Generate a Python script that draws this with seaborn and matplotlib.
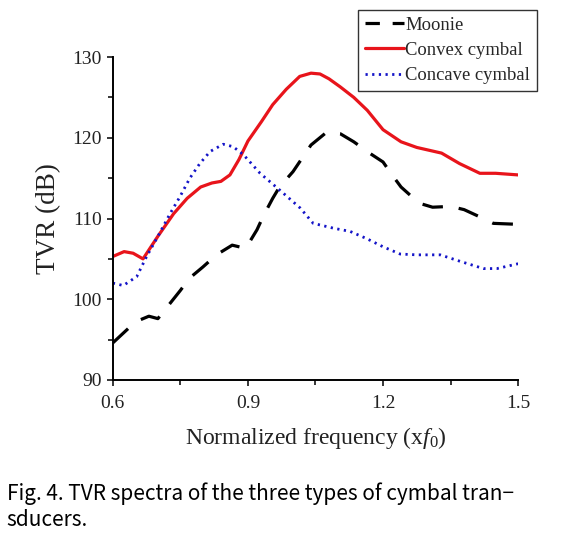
import matplotlib
matplotlib.use("Agg")
import matplotlib.pyplot as plt
from matplotlib.ticker import AutoMinorLocator, MultipleLocator
import seaborn as sns
import pandas as pd

# Moonie (dashed black)
moonie_x = [0.60, 0.65, 0.68, 0.70, 0.75, 0.77, 0.80, 0.83, 0.865, 0.895, 0.92, 0.935,
            0.955, 0.97, 1.00, 1.04, 1.075, 1.105, 1.135, 1.17, 1.20, 1.22, 1.24, 1.28,
            1.31, 1.35, 1.38, 1.415, 1.445, 1.49, 1.50]
moonie_y = [94.6, 97.2, 97.9, 97.6, 101.1, 102.6, 104.0, 105.5, 106.7, 106.3, 108.6, 110.4,
            112.5, 113.9, 115.8, 119.1, 120.7, 120.5, 119.5, 118.1, 117.0, 115.4, 113.9, 111.9,
            111.4, 111.5, 111.1, 110.2, 109.4, 109.3, 109.6]

# Convex cymbal (solid red)
convex_x = [0.60, 0.625, 0.645, 0.667, 0.70, 0.735, 0.765, 0.795, 0.82, 0.84, 0.86, 0.88,
            0.90, 0.93, 0.955, 0.985, 1.015, 1.04, 1.06, 1.08, 1.105, 1.135, 1.165, 1.20,
            1.24, 1.275, 1.33, 1.37, 1.415, 1.45, 1.50]
convex_y = [105.3, 105.9, 105.7, 105.0, 107.8, 110.6, 112.5, 113.9, 114.4, 114.6, 115.4, 117.3,
            119.6, 122.0, 124.1, 126.0, 127.6, 128.0, 127.9, 127.3, 126.3, 125.0, 123.4, 121.0,
            119.5, 118.8, 118.1, 116.8, 115.6, 115.6, 115.4]

# Concave cymbal (dotted blue)
concave_x = [0.60, 0.623, 0.653, 0.675, 0.704, 0.727, 0.749, 0.771, 0.793, 0.816, 0.845,
             0.867, 0.89, 0.927, 0.971, 1.016, 1.045, 1.09, 1.127, 1.164, 1.20, 1.238,
             1.275, 1.327, 1.371, 1.423, 1.453, 1.50]
concave_y = [102.0, 101.7, 102.8, 105.3, 108.2, 110.6, 112.7, 115.0, 116.8, 118.3, 119.2,
             118.9, 117.9, 115.6, 113.5, 111.3, 109.4, 108.8, 108.4, 107.5, 106.5, 105.6,
             105.5, 105.5, 104.7, 103.8, 103.8, 104.4]

sns.set_style("ticks")
plt.rcParams['font.family'] = ['Liberation Serif', 'DejaVu Serif']
plt.rcParams['mathtext.fontset'] = 'custom'
plt.rcParams['mathtext.rm'] = 'Liberation Serif'
plt.rcParams['mathtext.it'] = 'Liberation Serif:italic'
plt.rcParams['xtick.direction'] = 'out'
plt.rcParams['ytick.direction'] = 'out'

fig = plt.figure(figsize=(5.7, 5.41), dpi=100)
ax = fig.add_axes([0.198, 0.2976, 0.711, 0.5970])

df_m = pd.DataFrame({'x': moonie_x, 'y': moonie_y})
df_cx = pd.DataFrame({'x': convex_x, 'y': convex_y})
df_cc = pd.DataFrame({'x': concave_x, 'y': concave_y})

sns.lineplot(data=df_m, x='x', y='y', ax=ax, color='black', lw=2.3,
             label='Moonie', estimator=None, sort=False)
ax.lines[-1].set_dashes([6.5, 5])
sns.lineplot(data=df_cx, x='x', y='y', ax=ax, color='#e8141b', lw=2.3,
             label='Convex cymbal', estimator=None, sort=False)
sns.lineplot(data=df_cc, x='x', y='y', ax=ax, color='#1414c8', lw=2.0,
             label='Concave cymbal', estimator=None, sort=False)
ax.lines[-1].set_dashes([0.8, 1.6])

ax.set_xlim(0.6, 1.5)
ax.set_ylim(90, 130)
ax.xaxis.set_major_locator(MultipleLocator(0.3))
ax.yaxis.set_major_locator(MultipleLocator(10))
ax.xaxis.set_minor_locator(AutoMinorLocator(2))
ax.yaxis.set_minor_locator(AutoMinorLocator(2))
ax.tick_params(which='major', length=4.5, width=1.1, labelsize=14, color='black', labelcolor='#222222')
ax.tick_params(axis='x', which='major', pad=6)
ax.tick_params(which='minor', length=3.5, width=1.1, color='black')
for s in ['left', 'bottom']:
    ax.spines[s].set_linewidth(1.4)
    ax.spines[s].set_color('black')
sns.despine(ax=ax)

ax.set_xlabel(r'Normalized frequency (x$\mathit{f}_0$)', fontsize=17, labelpad=10, color='#222222')
ax.set_ylabel('TVR (dB)', fontsize=19.5, labelpad=8, color='#222222')

leg = ax.legend(loc='upper left', bbox_to_anchor=(358 / 570, 1 - 10 / 541),
                bbox_transform=fig.transFigure, fontsize=13.4, frameon=True,
                fancybox=False, handlelength=2.1, handletextpad=0.1,
                borderpad=0.35, labelspacing=0.45, borderaxespad=0)
leg.get_frame().set_edgecolor('black')
leg.get_frame().set_linewidth(1.0)
leg.get_lines()[0].set_linestyle((0, (4.5, 4)))

fig.text(0.012, 1 - 482 / 541, 'Fig. 4. TVR spectra of the three types of cymbal tran\u2212\nsducers.',
         fontsize=15, family=['Noto Sans CJK KR', 'DejaVu Sans'], ha='left', va='top',
         linespacing=1.25, color='black')

fig.savefig('out.png', dpi=100)
